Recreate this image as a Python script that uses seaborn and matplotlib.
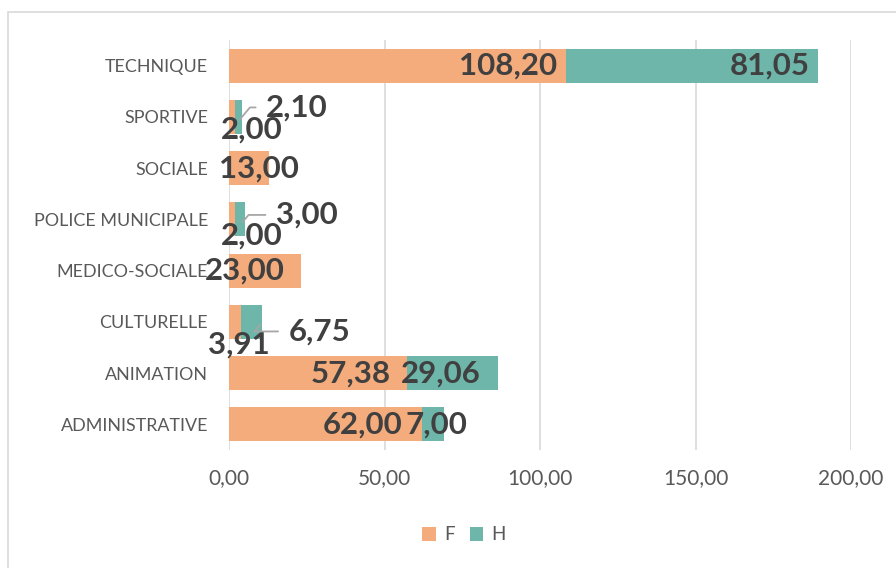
import numpy as np
import pandas as pd
import matplotlib.pyplot as plt
import seaborn as sns
from matplotlib.patches import Rectangle

# Data
categories = ['TECHNIQUE', 'SPORTIVE', 'SOCIALE', 'POLICE MUNICIPALE',
              'MEDICO-SOCIALE', 'CULTURELLE', 'ANIMATION', 'ADMINISTRATIVE']
f_values = [108.20, 2.00, 13.00, 2.00, 23.00, 3.91, 57.38, 62.00]
h_values = [81.05, 2.10, np.nan, 3.00, np.nan, 6.75, 29.06, 7.00]
x_ticks = [0, 50, 100, 150, 200]

# label placement (pixel offsets from the segment end), leader flag
# plain labels: offset of the right edge; leader labels: offset of the left edge
f_label_pos = [(-8, 0, False), (47, -13, False), (29, 0, False), (47, -16, False),
               (-16, 0, False), (29, -23, False), (-17, 0, False), (-19, 0, False)]
h_label_pos = [(-8, 0, False), (26, 12, True), None, (33, 7, True),
               None, (28, -7, True), (-17, 0, False), (24, 0, False)]

c_f = '#F4AC7C'
c_h = '#6DB6A9'
c_lab = '#404040'
c_tick = '#595959'

df = pd.DataFrame({'cat': categories, 'F': f_values, 'H': h_values})
df['total'] = df['F'] + df['H'].fillna(0)

sns.set_style('white')
plt.rcParams['font.family'] = ['Lato', 'DejaVu Sans']

fig = plt.figure(figsize=(8.96, 5.68), dpi=100)
ax = fig.add_axes([229 / 896, 1 - 450 / 568, (851 - 229) / 896, (450 - 40) / 568])

sns.barplot(data=df, y='cat', x='total', color=c_h, width=0.66, ax=ax,
            saturation=1, label='H', orient='h', linewidth=0)
sns.barplot(data=df, y='cat', x='F', color=c_f, width=0.66, ax=ax,
            saturation=1, label='F', orient='h', linewidth=0)
handles, labels = ax.get_legend_handles_labels()
if ax.legend_ is not None:
    ax.legend_.remove()

ax.set_xlim(0, 200)
ax.set_ylim(len(categories) - 0.5, -0.5)
ax.set_xticks(x_ticks)
ax.set_xticklabels([f'{v:.2f}'.replace('.', ',') for v in x_ticks],
                   fontsize=15, color=c_tick)
ax.tick_params(axis='y', labelsize=12.9, labelcolor=c_tick, pad=15, length=0)
ax.tick_params(axis='x', pad=13, length=0)
ax.set_xlabel('')
ax.set_ylabel('')
ax.xaxis.grid(True, color='#d9d9d9', lw=1.2)
ax.set_axisbelow(True)
for s in ax.spines.values():
    s.set_visible(False)


def fmt(v):
    return f'{v:.2f}'.replace('.', ',')


def put_label(val, end, i, pos):
    dx, dy, leader = pos
    kw = {}
    if leader:
        kw['arrowprops'] = dict(arrowstyle='-', color='#a6a6a6', lw=1.3,
                                relpos=(0, 0.5), shrinkA=5, shrinkB=0,
                                connectionstyle='angle,angleA=0,angleB=50,rad=0')
        xy = (end - 0.6, i + 0.05)
        ha = 'left'
    else:
        xy = (end, i)
        ha = 'right'
    ax.annotate(fmt(val), xy=xy, xytext=(dx, dy), textcoords='offset pixels',
                ha=ha, va='center', fontsize=22.5, fontweight='bold',
                color=c_lab, **kw)


for i, row in df.iterrows():
    put_label(row['F'], row['F'], i, f_label_pos[i])
    if not np.isnan(row['H']):
        put_label(row['H'], row['total'], i, h_label_pos[i])

order = [labels.index('F'), labels.index('H')]
fig.legend([handles[k] for k in order], ['F', 'H'], loc='center',
           bbox_to_anchor=(464 / 896, 1 - 535 / 568), ncol=2, frameon=False,
           handlelength=0.7, handleheight=0.7, handletextpad=0.45,
           columnspacing=0.8, fontsize=13.5, labelcolor=c_tick)

fig.patches.append(Rectangle((8 / 896, -0.05), 1.1, 0.05 + 1 - 12 / 568,
                             transform=fig.transFigure, fill=False,
                             edgecolor='#d9d9d9', lw=1.2))

fig.savefig('out.png', dpi=100)
